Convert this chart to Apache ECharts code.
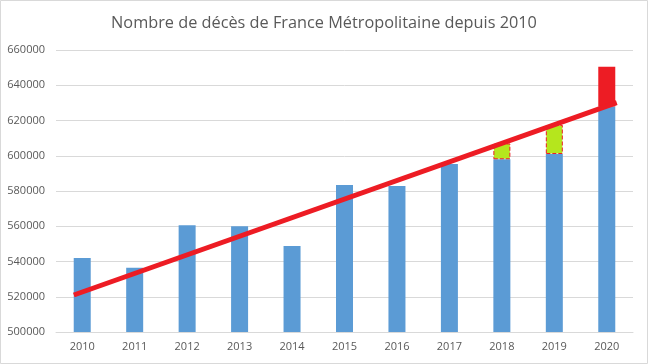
<!DOCTYPE html>
<html>
<head>
<meta charset="utf-8">
<script src="https://cdn.jsdelivr.net/npm/echarts@6/dist/echarts.min.js"></script>
<style>
html,body{margin:0;padding:0;background:#fff;}
#c{width:648px;height:364px;}
</style>
</head>
<body>
<div id="c"></div>
<script>
const years = ['2010','2011','2012','2013','2014','2015','2016','2017','2018','2019','2020'];
const deaths = [542000, 536500, 560500, 560000, 548800, 583400, 582800, 595300, 598000, 601000, 628000];
const excessGreen = [null, null, null, null, null, null, null, null, 9000, 16500, null];
const excessRed = [null, null, null, null, null, null, null, null, null, null, 22500];
const trendStart = [2009.84, 521000];
const trendEnd = [2020.19, 630100];
const yTicks = [500000, 520000, 540000, 560000, 580000, 600000, 620000, 640000, 660000];

const chart = echarts.init(document.getElementById('c'));
const grid = {left: 56, right: 15, top: 50, bottom: 32};
chart.setOption({
  animation: false,
  backgroundColor: '#ffffff',
  title: {
    text: 'Nombre de décès de France Métropolitaine depuis 2010',
    left: 'center', top: 10,
    textStyle: {fontFamily: 'Open Sans', fontSize: 16.3, fontWeight: 'normal', color: '#595959'}
  },
  graphic: [{type: 'rect', shape: {x: 0.5, y: 0.5, width: 647, height: 363}, style: {fill: 'none', stroke: '#d9d9d9', lineWidth: 1}, silent: true}],
  grid: grid,
  xAxis: [{
    type: 'category', data: years,
    axisLine: {lineStyle: {color: '#d9d9d9'}},
    axisTick: {show: false},
    axisLabel: {color: '#595959', fontSize: 11, fontFamily: 'Open Sans', margin: 9}
  }, {
    type: 'value', min: 2009.5, max: 2020.5, show: false
  }],
  yAxis: {
    type: 'value', min: yTicks[0], max: yTicks[yTicks.length - 1], interval: 20000,
    axisLine: {show: false}, axisTick: {show: false},
    splitLine: {lineStyle: {color: '#d9d9d9'}},
    axisLabel: {color: '#595959', fontSize: 11, fontFamily: 'Open Sans', margin: 11, formatter: v => String(v)}
  },
  series: [{
    type: 'bar', stack: 'a', data: deaths, barWidth: 17, itemStyle: {color: '#5b9bd5'}
  }, {
    type: 'bar', stack: 'a', data: excessGreen, barWidth: 17,
    itemStyle: {color: '#b5e61d', borderColor: '#ed1c24', borderWidth: 1, borderType: 'dashed'}
  }, {
    type: 'bar', stack: 'a', data: excessRed, barWidth: 17, itemStyle: {color: '#ed1c24'}
  }, {
    type: 'line', xAxisIndex: 1, data: [trendStart, trendEnd], symbol: 'none',
    lineStyle: {color: '#ed1c24', width: 5}, z: 5
  }]
});
</script>
</body>
</html>
